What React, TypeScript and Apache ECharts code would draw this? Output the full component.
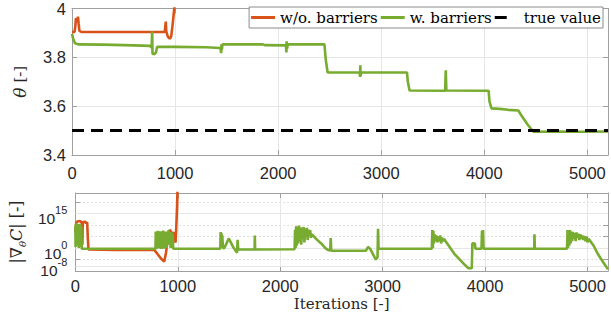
import React, { useEffect, useRef } from "react";
import * as echarts from "echarts";

// ---------- data ----------
const seriesNames = ["w/o. barriers", "w. barriers", "true value"];
const iterRange = [0, 5200];
const xTicks = [0, 1000, 2000, 3000, 4000, 5000];
const thetaRange = [3.4, 4];
const thetaTicks = [3.4, 3.6, 3.8, 4];
const gradLogRange = [-10, 24];
const gradLabelExponents = [-8, 0, 15];
const gradSolidGridExponents = [-8, 0, 15];
const trueTheta = 3.5;

// theta estimate, without barriers  [iteration, theta]
const thetaNoBarrier = [
  [0, 3.904], [25, 3.904], [33, 3.93], [38, 3.96], [45, 3.955], [52, 3.945],
  [58, 3.967], [64, 3.94], [72, 3.908], [90, 3.904], [400, 3.904], [700, 3.904],
  [900, 3.904], [906, 3.93], [910, 3.946], [915, 3.905], [930, 3.885],
  [948, 3.876], [962, 3.885], [975, 3.93], [990, 3.99], [1005, 4.05],
];

// theta estimate, with barriers
const thetaBarrier = [
  [0, 3.896], [12, 3.875], [29, 3.858], [60, 3.853], [300, 3.852], [600, 3.849],
  [755, 3.847], [772, 3.84], [778, 3.907], [781, 3.815], [800, 3.813],
  [815, 3.82], [826, 3.843], [1000, 3.843], [1300, 3.841], [1440, 3.838],
  [1447, 3.817], [1450, 3.853], [1453, 3.83], [1460, 3.853], [1850, 3.853],
  [1870, 3.85], [2075, 3.849], [2080, 3.82], [2082, 3.866], [2086, 3.835],
  [2094, 3.853], [2449, 3.853], [2462, 3.79], [2480, 3.738], [2790, 3.738],
  [2795, 3.72], [2797, 3.767], [2800, 3.725], [2806, 3.739], [3250, 3.738],
  [3258, 3.70], [3275, 3.664], [3620, 3.663], [3626, 3.747], [3632, 3.664],
  [4042, 3.663], [4050, 3.62], [4070, 3.591], [4150, 3.589], [4230, 3.585],
  [4330, 3.582], [4360, 3.562], [4420, 3.525], [4476, 3.495], [4700, 3.496],
  [4950, 3.495], [5200, 3.496],
];

// log10 of |grad C|, without barriers
const gradNoBarrierLog10 = [
  [0, 7], [8, 11], [20, 11.6], [45, 11.8], [62, 11.2], [68, 1.5], [72, 11],
  [90, 11.6], [105, 10.8], [115, 11.3], [122, 4], [128, -0.6], [400, -0.8],
  [770, -0.8], [800, -2.5], [840, -4.8], [868, -5.9], [885, -2], [900, 3],
  [910, 6.5], [925, 8], [940, 5.5], [955, 7], [968, 4], [978, 2.4], [985, 9],
  [992, 17], [1000, 30],
];

// log10 of |grad C|, with barriers
const gradBarrierLog10 = [
  [0, 9.5], [2, 0.5], [5, 10.3], [12, 10.5], [15, 1], [18, 10.2], [30, 10],
  [33, 0], [36, 9.8], [50, 10.2], [55, 0.5], [58, 9.5], [62, -0.3],
  [400, -0.3], [782, -0.3], [785, 7.2], [790, -0.5], [795, 6.8], [800, 0],
  [806, 7.5], [812, -0.2], [818, 6.5], [825, 0.5], [832, 7.3], [838, -0.4],
  [845, 6], [852, 0.8], [858, 7.6], [864, -0.3], [870, 6.8], [877, 1],
  [884, 7.2], [890, 0], [897, 6.5], [904, 2], [910, 7.8], [917, 1.5],
  [924, 6.3], [930, 0], [937, 7], [944, 3], [950, 6.2], [955, -0.3],
  [1415, -0.3], [1418, 7], [1422, 2], [1426, 6.5], [1430, 1], [1434, 5.5],
  [1440, 0.5], [1450, -0.3], [1470, 1.5], [1497, 4.2], [1540, 0.5],
  [1578, -2], [1584, 3.6], [1590, -0.6], [1750, -0.6], [1752, 5.5],
  [1755, -0.6], [2140, -0.5], [2145, 8], [2150, 0], [2155, 9.5], [2162, 1],
  [2168, 8.5], [2175, 2], [2182, 9.8], [2190, 3], [2197, 9], [2205, 1.5],
  [2212, 8.7], [2220, 4], [2228, 9.2], [2236, 2.5], [2244, 8.5], [2252, 5],
  [2260, 8.8], [2268, 3.5], [2276, 8], [2284, 5.5], [2292, 7.8], [2300, 4.5],
  [2310, 6], [2350, 4], [2400, 2], [2440, 0], [2466, -0.8], [2488, -1],
  [2493, 4.4], [2498, -1.2], [2836, -1.2], [2858, 0.5], [2880, -0.5],
  [2933, -5], [2950, -4], [2955, 8.4], [2960, 0], [2970, -0.3], [3480, -0.3],
  [3485, 7.9], [3490, 0], [3495, 7.5], [3500, 2], [3508, 6], [3515, 3],
  [3525, 5.5], [3535, 2.5], [3545, 5], [3555, 3], [3562, 5.5], [3570, 2],
  [3580, 4.5], [3590, 3], [3600, 4], [3611, 3.2], [3700, -2.5], [3790, -6.8],
  [3837, -8.8], [3870, -8.8], [3876, 2.1], [3900, 2], [3905, -0.3],
  [3965, -0.3], [3970, 7.5], [3975, 0], [3980, 7.9], [3985, -0.3],
  [4480, -0.3], [4482, 6], [4486, -0.3], [4800, -0.3], [4805, 7.9],
  [4810, 0], [4815, 7.6], [4822, 1], [4828, 7.8], [4835, 2], [4842, 7.2],
  [4850, 3], [4858, 7], [4866, 4], [4875, 6.5], [4884, 3], [4892, 6.8],
  [4900, 4.5], [4910, 6.2], [4920, 3.5], [4930, 6], [4940, 4], [4950, 5.5],
  [4960, 3.5], [4970, 5.2], [4980, 3], [4990, 5], [5000, 2.5], [5010, 4],
  [5020, 3.5], [5060, 1], [5100, -2.5], [5150, -6], [5200, -9.3],
];

// ---------- styling ----------
const ORANGE = "#D95319";
const GREEN = "#77AC30";
const AXIS_COLOR = "#a0a0a0";
const GRID_COLOR = "#e6e6e6";
const TEXT_COLOR = "#262626";
const SANS = "'Liberation Sans', Arial, sans-serif";
const SERIF = "'DejaVu Serif', serif";
const TICK_SIZE = 16.5;
const BASE_SIZE = 15.5;
const SUP_SIZE = 11;
// the lowest label is set slightly differently (it is close to the next one)
const lowLabel = (e: number) => e === gradLabelExponents[0];

const fmtTheta = (v: number) => {
  const r = Math.round(v * 10) / 10;
  return Number.isInteger(r) ? String(r) : r.toFixed(1);
};

// legend icons: a thick line, and a single dash for the dashed line
const LINE_ICON = "path://M0,0H24V3H0Z";
const DASH_ICON = "path://M0,0H12V3H0Z M24,0L24,3";

// width of the exponent text, so that "10" sits just left of it
const expText = (v: number) => String(Math.round(v));
const expKey = (v: number) => "g" + String(Math.round(v)).replace("-", "m");
const expWidth = (v: number) => {
  let w = 0;
  for (const ch of expText(v)) w += ch === "-" ? 0.333 : 0.556;
  return w * SUP_SIZE;
};

function buildOption() {
  const axisLine = { show: true, onZero: false, lineStyle: { color: AXIS_COLOR, width: 1 } };
  const tick = { show: true, inside: true, length: 5, lineStyle: { color: AXIS_COLOR } };
  const xLabel = {
    color: TEXT_COLOR,
    fontFamily: SANS,
    fontSize: TICK_SIZE,
    margin: 9,
    formatter: (v: number) => (xTicks.includes(v) ? String(v) : ""),
  };
  const xBase = {
    type: "value",
    min: iterRange[0],
    max: iterRange[1],
    interval: 1000,
  };
  const gradBase = {
    type: "value",
    gridIndex: 1,
    min: gradLogRange[0],
    max: gradLogRange[1],
    interval: 5,
  };
  const gapRich: Record<string, any> = {};
  gradLabelExponents.forEach((e) => {
    gapRich[expKey(e)] = { width: expWidth(e), fontSize: BASE_SIZE };
  });
  const normalLabels = gradLabelExponents.filter((e) => !lowLabel(e));
  const lowLabels = gradLabelExponents.filter((e) => lowLabel(e));

  const baseLabel = (values: number[], verticalAlign: string, lineHeight: number) => ({
    customValues: values,
    hideOverlap: false,
    margin: 8,
    verticalAlign,
    lineHeight,
    formatter: (v: number) => `{b|10}{${expKey(v)}| }`,
    rich: {
      b: { fontFamily: SANS, fontSize: BASE_SIZE, color: TEXT_COLOR, lineHeight },
      ...Object.fromEntries(
        Object.entries(gapRich).map(([k, s]) => [k, { ...s, lineHeight }])
      ),
    },
  });
  const supLabel = (values: number[], lineHeight: number) => ({
    customValues: values,
    hideOverlap: false,
    margin: 8,
    verticalAlign: "bottom",
    lineHeight,
    fontFamily: SANS,
    fontSize: SUP_SIZE,
    color: TEXT_COLOR,
    formatter: (v: number) => expText(v),
  });
  const labelOnlyAxis = (axisLabel: any) => ({
    ...gradBase,
    position: "left",
    offset: 0,
    axisLine: { show: false },
    axisTick: { show: false },
    splitLine: { show: false },
    axisLabel,
  });

  return {
    animation: false,
    grid: [
      { left: 72, top: 5, width: 537, height: 150 },
      { left: 72, top: 193, width: 537, height: 78 },
    ],
    legend: {
      data: [
        { name: seriesNames[0], icon: LINE_ICON },
        { name: seriesNames[1], icon: LINE_ICON },
        { name: seriesNames[2], icon: DASH_ICON },
      ],
      right: 8,
      top: 7,
      itemWidth: 24,
      itemHeight: 3,
      itemGap: 3,
      padding: [3, 2],
      borderColor: "#8c8c8c",
      borderWidth: 1,
      backgroundColor: "#ffffff",
      textStyle: { fontFamily: SERIF, fontSize: 15, color: "#000" },
    },
    xAxis: [
      {
        ...xBase,
        gridIndex: 0,
        position: "bottom",
        axisLine,
        axisTick: tick,
        axisLabel: xLabel,
        splitLine: { show: true, lineStyle: { color: GRID_COLOR } },
      },
      {
        ...xBase,
        gridIndex: 0,
        position: "top",
        axisLine,
        axisTick: tick,
        axisLabel: { show: false },
        splitLine: { show: false },
      },
      {
        ...xBase,
        gridIndex: 1,
        position: "bottom",
        axisLine,
        axisTick: tick,
        axisLabel: { ...xLabel, margin: 6 },
        splitLine: { show: true, lineStyle: { color: GRID_COLOR } },
        name: "Iterations [-]",
        nameLocation: "middle",
        nameGap: 25,
        nameTextStyle: { fontFamily: SERIF, fontSize: 15, color: TEXT_COLOR },
      },
      {
        ...xBase,
        gridIndex: 1,
        position: "top",
        axisLine,
        axisTick: tick,
        axisLabel: { show: false },
        splitLine: { show: false },
      },
    ],
    yAxis: [
      {
        type: "value",
        gridIndex: 0,
        position: "left",
        min: thetaRange[0],
        max: thetaRange[1],
        interval: 0.2,
        axisLine,
        axisTick: tick,
        axisLabel: {
          color: TEXT_COLOR,
          fontFamily: SANS,
          fontSize: TICK_SIZE,
          margin: 6,
          formatter: (v: number) =>
            thetaTicks.some((t) => Math.abs(t - v) < 1e-6) ? fmtTheta(v) : "",
        },
        splitLine: { show: true, lineStyle: { color: GRID_COLOR } },
        name: "{i|θ} [-]",
        nameLocation: "middle",
        nameRotate: 90,
        nameGap: 44,
        nameTextStyle: {
          fontFamily: SERIF,
          fontSize: 15,
          color: TEXT_COLOR,
          rich: { i: { fontFamily: SERIF, fontStyle: "italic", fontSize: 17, color: TEXT_COLOR } },
        },
      },
      {
        type: "value",
        gridIndex: 0,
        position: "right",
        min: thetaRange[0],
        max: thetaRange[1],
        interval: 0.2,
        axisLine,
        axisTick: tick,
        axisLabel: { show: false },
        splitLine: { show: false },
      },
      {
        // log10 |grad C| axis with ticks, grid and the "10" of the upper labels
        ...gradBase,
        position: "left",
        offset: 0,
        axisLine,
        axisTick: tick,
        axisLabel: baseLabel(normalLabels, "top", 10),
        splitLine: { show: true, lineStyle: { color: "#d6d6d6", type: [1.5, 2.5] } },
        name: "{n||∇}{s|θ}{c|C}{n|| [-]}",
        nameLocation: "middle",
        nameRotate: 90,
        nameGap: 44,
        nameTextStyle: {
          fontFamily: SERIF,
          fontSize: 15,
          color: TEXT_COLOR,
          rich: {
            n: { fontFamily: SERIF, fontSize: 16, color: TEXT_COLOR, lineHeight: 22, verticalAlign: "middle" },
            s: { fontFamily: SERIF, fontStyle: "italic", fontSize: 10, color: TEXT_COLOR, verticalAlign: "bottom" },
            c: { fontFamily: SERIF, fontStyle: "italic", fontSize: 16, color: TEXT_COLOR, lineHeight: 22 },
          },
        },
      },
      {
        ...gradBase,
        position: "right",
        axisLine,
        axisTick: tick,
        axisLabel: { show: false },
        splitLine: { show: false },
      },
      labelOnlyAxis(supLabel(normalLabels, 6.6)),
      labelOnlyAxis(baseLabel(lowLabels, "top", 9)),
      labelOnlyAxis(supLabel(lowLabels, 8)),
    ],
    series: [
      {
        name: "grid",
        type: "line",
        xAxisIndex: 2,
        yAxisIndex: 2,
        data: [],
        silent: true,
        z: 1,
        markLine: {
          silent: true,
          z: 1,
          symbol: "none",
          label: { show: false },
          emphasis: { disabled: true },
          lineStyle: { color: GRID_COLOR, type: "solid", width: 1 },
          data: gradSolidGridExponents.map((e) => ({ yAxis: e })),
        },
      },
      {
        name: seriesNames[0],
        type: "line",
        xAxisIndex: 0,
        yAxisIndex: 0,
        data: thetaNoBarrier,
        symbol: "none",
        clip: true,
        z: 3,
        lineStyle: { color: ORANGE, width: 2.6 },
        itemStyle: { color: ORANGE },
      },
      {
        name: seriesNames[1],
        type: "line",
        xAxisIndex: 0,
        yAxisIndex: 0,
        data: thetaBarrier,
        symbol: "none",
        clip: true,
        z: 4,
        lineStyle: { color: GREEN, width: 2.6 },
        itemStyle: { color: GREEN },
      },
      {
        name: seriesNames[2],
        type: "line",
        xAxisIndex: 0,
        yAxisIndex: 0,
        data: iterRange.map((x) => [x, trueTheta]),
        symbol: "none",
        clip: true,
        z: 5,
        lineStyle: { color: "#000000", width: 3, type: [12, 7] },
        itemStyle: { color: "#000000" },
      },
      {
        name: seriesNames[0],
        type: "line",
        xAxisIndex: 2,
        yAxisIndex: 2,
        data: gradNoBarrierLog10,
        symbol: "none",
        clip: true,
        z: 3,
        lineStyle: { color: ORANGE, width: 2.6 },
        itemStyle: { color: ORANGE },
      },
      {
        name: seriesNames[1],
        type: "line",
        xAxisIndex: 2,
        yAxisIndex: 2,
        data: gradBarrierLog10,
        symbol: "none",
        clip: true,
        z: 4,
        lineStyle: { color: GREEN, width: 2.6 },
        itemStyle: { color: GREEN },
      },
    ],
  };
}

export default function App() {
  const ref = useRef<HTMLDivElement>(null);
  useEffect(() => {
    if (!ref.current) return;
    const chart = echarts.init(ref.current, undefined, { renderer: "svg" });
    chart.setOption(buildOption() as any);
    return () => chart.dispose();
  }, []);
  return (
    <div
      ref={ref}
      style={{ position: "fixed", left: 0, top: 0, width: 611, height: 323, background: "#fff" }}
    />
  );
}
